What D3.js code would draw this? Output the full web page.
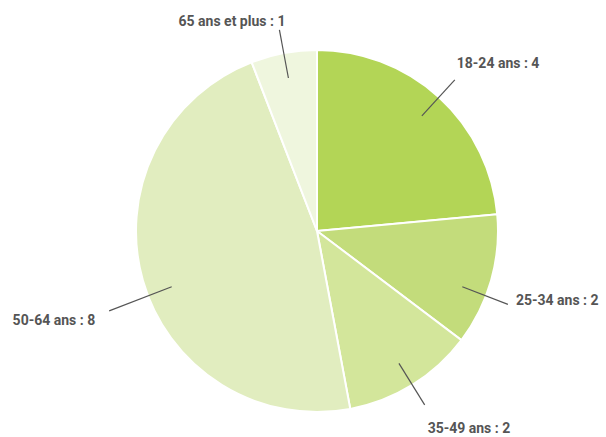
<!DOCTYPE html>
<html>
<head>
<meta charset="utf-8">
<script src="https://cdn.jsdelivr.net/npm/d3@7"></script>
<style>
  body { margin: 0; background: #fff; }
  text { font-family: Roboto, "Noto Sans", sans-serif; font-weight: bold; font-size: 14px; fill: #555; }
</style>
</head>
<body>
<div id="chart"></div>
<script>
// tranches d'âge
var categories = ["18-24 ans", "25-34 ans", "35-49 ans", "50-64 ans", "65 ans et plus"];
var values = [4, 2, 2, 8, 1];
var colors = ["#b3d556", "#c3dc7b", "#d3e69b", "#e1edbf", "#eff6de"];

var width = 606, height = 437;
var cx = 317, cy = 231, radius = 181;

var svg = d3.select("#chart").append("svg")
    .attr("width", width)
    .attr("height", height);

var g = svg.append("g").attr("transform", "translate(" + cx + "," + cy + ")");

var pie = d3.pie().sort(null).value(function(d){ return d; });
var arcs = pie(values);

var arc = d3.arc().innerRadius(0).outerRadius(radius);

g.selectAll("path.slice")
  .data(arcs)
  .enter().append("path")
  .attr("class", "slice")
  .attr("d", arc)
  .attr("fill", function(d, i){ return colors[i]; })
  .attr("stroke", "#fff")
  .attr("stroke-width", 2);

// leader lines + labels
var inner = radius * 0.86, outer = radius * 1.13;

arcs.forEach(function(d, i){
  var a = (d.startAngle + d.endAngle) / 2;
  var s = Math.sin(a), c = Math.cos(a);
  // side labels are pushed a bit away from the horizontal
  if (Math.abs(c) < 0.5) {
    var u = Math.hypot(s, c * 1.35);
    s = s / u; c = c * 1.35 / u;
  }
  // big slices get a longer connector
  var o = outer + (d.endAngle - d.startAngle > Math.PI / 2 ? radius * 0.1 : 0);
  var p0 = [s * inner, -c * inner], p1 = [s * o, -c * o];
  g.append("line")
    .attr("x1", p0[0]).attr("y1", p0[1])
    .attr("x2", p1[0]).attr("y2", p1[1])
    .attr("stroke", "#555")
    .attr("stroke-width", 1.2);

  var x, y, anchor = s > 0 ? "start" : "end";
  if (Math.abs(c) > 0.8) {
    x = p1[0] + (s > 0 ? 3 : 6);
    y = p1[1] + (c < 0 ? 28 : -4);
  } else if (c > 0) {
    x = p1[0] + (s > 0 ? 2 : -2);
    y = p1[1] - 12;
  } else {
    x = p1[0] + (s > 0 ? 8 : -14);
    y = p1[1] + (s > 0 ? 1 : 14);
  }
  g.append("text")
    .attr("x", x).attr("y", y)
    .attr("text-anchor", anchor)
    .text(categories[i] + " : " + values[i]);
});
</script>
</body>
</html>
